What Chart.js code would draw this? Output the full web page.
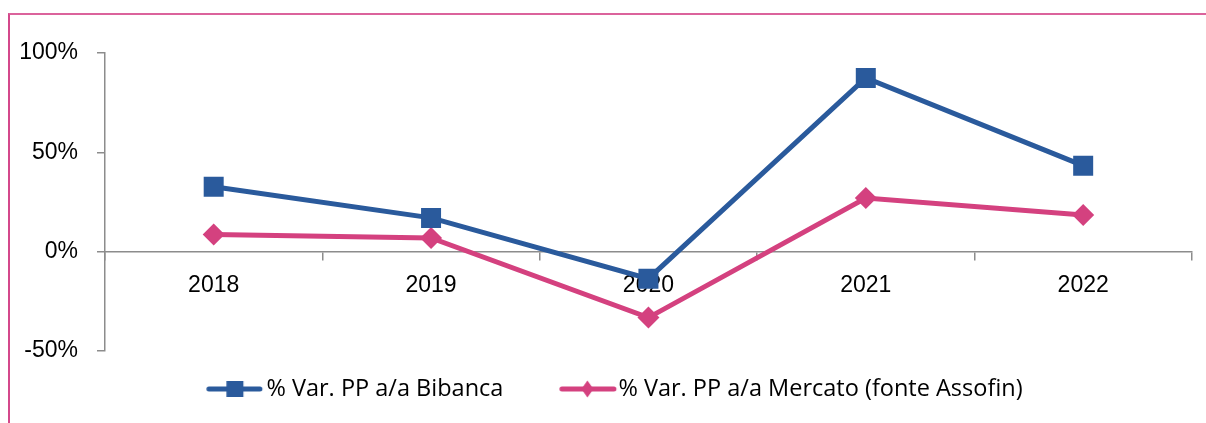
<!DOCTYPE html>
<html>
<head>
<meta charset="utf-8">
<script src="https://cdn.jsdelivr.net/npm/chart.js@4/dist/chart.umd.min.js"></script>
<style>
html, body { margin: 0; padding: 0; background: #fff; }
#wrap { position: relative; width: 1206px; height: 423px; overflow: hidden; }
#frame { position: absolute; left: 8px; top: 13px; width: 1300px; height: 500px;
         border-left: 2px solid #D4488B; border-top: 2px solid #DB639C; }
#c { position: absolute; left: 0; top: 0; }
</style>
</head>
<body>
<div id="wrap"><div id="frame"></div><canvas id="c" width="1206" height="423"></canvas></div>
<script>
// ---- data ----
const categories = ['2018', '2019', '2020', '2021', '2022'];
const bibanca = [32.7, 17.0, -13.6, 87.4, 43.3];
const mercato = [8.6, 6.9, -33.2, 27.0, 18.4];
const seriesLabels = ['% Var. PP a/a Bibanca', '% Var. PP a/a Mercato (fonte Assofin)'];
const yTicks = [-50, 0, 50, 100];

// ---- styles ----
const BLUE = '#2A5A9C';
const PINK = '#D4417F';
const AXIS = '#8C8C8C';
const FONT = '"Liberation Sans", Arial, sans-serif';
const LEGEND_FONT = '"Open Sans", "Liberation Sans", sans-serif';

function legendImage(color, kind, W, lineFrom, lineTo, mx) {
  const cv = document.createElement('canvas');
  cv.width = W; cv.height = 24;
  const g = cv.getContext('2d');
  g.strokeStyle = color; g.fillStyle = color;
  g.lineWidth = 5; g.lineCap = 'round';
  g.beginPath(); g.moveTo(lineFrom, 12); g.lineTo(lineTo, 12); g.stroke();
  g.beginPath();
  if (kind === 'square') {
    g.rect(mx - 8.5, 4, 17, 16);
  } else {
    g.moveTo(mx, 3.5); g.lineTo(mx + 6, 12); g.lineTo(mx, 20.5); g.lineTo(mx - 6, 12); g.closePath();
  }
  g.fill();
  return cv;
}
const legendImgs = [
  legendImage(BLUE, 'square', 96, 40.75, 91.75, 66.75),
  legendImage(PINK, 'diamond', 100, 43.75, 95.75, 69.25)
];

Chart.defaults.font.family = FONT;
Chart.defaults.font.size = 23;
Chart.defaults.color = '#000';

new Chart(document.getElementById('c'), {
  type: 'line',
  data: {
    labels: categories,
    datasets: [
      { label: seriesLabels[0], data: bibanca, borderColor: BLUE, backgroundColor: BLUE,
        borderWidth: 5, tension: 0, pointStyle: 'rect', pointRadius: 14.14,
        pointBackgroundColor: BLUE, pointBorderColor: BLUE, pointBorderWidth: 0 },
      { label: seriesLabels[1], data: mercato, borderColor: PINK, backgroundColor: PINK,
        borderWidth: 5, tension: 0, pointStyle: 'rectRot', pointRadius: 11,
        pointBackgroundColor: PINK, pointBorderColor: PINK, pointBorderWidth: 0 }
    ]
  },
  options: {
    responsive: false,
    devicePixelRatio: 1,
    animation: false,
    layout: { padding: { left: 2.25, right: 8, top: 53, bottom: 12.25 } },
    scales: {
      y: {
        min: yTicks[0], max: yTicks[yTicks.length - 1],
        afterBuildTicks: s => { s.ticks = yTicks.map(v => ({ value: v })); },
        ticks: { padding: 19, color: '#000', callback: v => v + '%' },
        grid: { drawOnChartArea: false, drawTicks: true, tickLength: 8, color: AXIS, lineWidth: 1.5 },
        border: { color: AXIS, width: 1.5 },
        afterFit: s => { s.width = 102.75; }
      },
      x: {
        position: { y: 0 },
        offset: true,
        z: 1,
        ticks: { padding: 12, color: '#000' },
        grid: { offset: true, drawOnChartArea: false, tickLength: 8, color: AXIS, lineWidth: 1.5 },
        border: { color: AXIS, width: 1.5 }
      }
    },
    plugins: {
      tooltip: { enabled: false },
      legend: {
        position: 'bottom',
        labels: {
          usePointStyle: true,
          pointStyleWidth: 77,
          padding: 26.25,
          color: '#000',
          font: { family: LEGEND_FONT, size: 23.5 },
          generateLabels: chart => {
            const items = Chart.defaults.plugins.legend.labels.generateLabels(chart);
            items.forEach((it, i) => { it.pointStyle = legendImgs[i]; });
            return items;
          }
        }
      }
    }
  }
});
</script>
</body>
</html>
